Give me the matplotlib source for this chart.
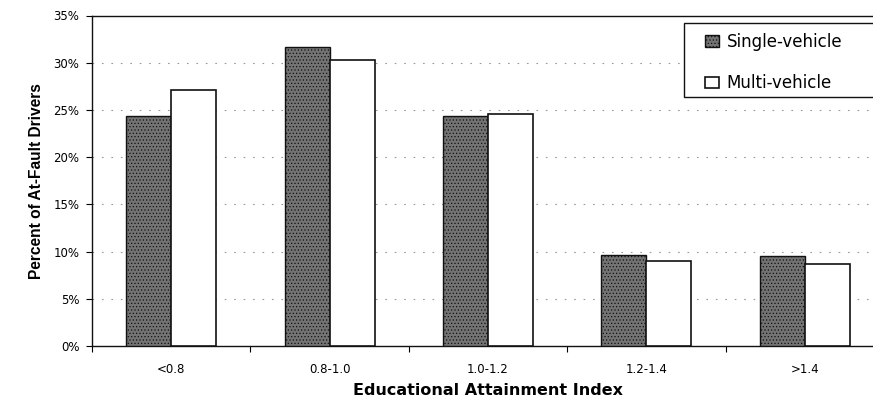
import matplotlib
matplotlib.use("Agg")
import matplotlib.pyplot as plt
import numpy as np
from matplotlib.ticker import FixedLocator, FuncFormatter
from matplotlib.patches import Rectangle

categories = ["<0.8", "0.8-1.0", "1.0-1.2", "1.2-1.4", ">1.4"]
single_vehicle = [24.4, 31.7, 24.4, 9.6, 9.55]
multi_vehicle = [27.1, 30.3, 24.6, 8.95, 8.7]
y_ticks = [0, 5, 10, 15, 20, 25, 30, 35]

plt.rcParams['hatch.linewidth'] = 0.5

W, H = 873, 397
fig = plt.figure(figsize=(W / 100, H / 100), dpi=100)
left, right, top, bottom = 92, 884, 15.5, 346
ax = fig.add_axes([left / W, 1 - bottom / H, (right - left) / W, (bottom - top) / H])

x = np.arange(len(categories))
w = 0.284
ax.bar(x - w / 2, single_vehicle, width=w, facecolor='#737373', edgecolor='#111111',
       hatch='.....', linewidth=1.0, label='Single-vehicle', zorder=3)
ax.bar(x + w / 2, multi_vehicle, width=w, facecolor='white', edgecolor='#111111',
       linewidth=1.2, label='Multi-vehicle', zorder=3)

ax.set_xlim(-0.5, len(categories) - 0.5)
ax.set_ylim(0, 35)
ax.set_yticks(y_ticks)
ax.yaxis.set_major_formatter(FuncFormatter(lambda v, p: f"{int(v)}%"))
ax.set_xticks(x)
ax.set_xticklabels(categories)
ax.xaxis.set_minor_locator(FixedLocator(np.arange(-0.5, len(categories) + 0.5, 1.0)))
ax.tick_params(axis='x', which='major', length=0, pad=12, labelsize=8.5)
ax.tick_params(axis='x', which='minor', length=4, width=0.8, direction='out')
ax.tick_params(axis='y', length=4, width=0.8, direction='out', labelsize=8.5, pad=5)
for lab in ax.get_xticklabels() + ax.get_yticklabels():
    lab.set_family('DejaVu Sans')

for yv in y_ticks[1:-1]:
    ax.axhline(yv, color='#999999', linewidth=0.8, linestyle=(0, (1.5, 7)), zorder=1)

for s in ax.spines.values():
    s.set_color('#111111')
    s.set_linewidth(1.0)
ax.spines['right'].set_visible(False)

ax.set_ylabel('Percent of At-Fault Drivers', fontsize=11.2, fontweight='bold',
              family='Liberation Sans', labelpad=7)
ax.set_xlabel('Educational Attainment Index', fontsize=11.5, fontweight='bold',
              family='DejaVu Sans', labelpad=5)

# legend frame (extends beyond right edge as in the reference)
frame = Rectangle((684 / W, 1 - 97 / H), 200 / W, 74 / H, transform=fig.transFigure,
                  facecolor='white', edgecolor='#111111', linewidth=1.0,
                  zorder=6, clip_on=False)
ax.add_artist(frame)

leg = ax.legend(loc='upper left', bbox_to_anchor=(700 / W, 1 - 28 / H),
                bbox_transform=fig.transFigure, borderaxespad=0, frameon=False,
                handlelength=0.85, handleheight=0.7,
                handletextpad=0.45, labelspacing=1.4, borderpad=0.3,
                prop={'family': 'DejaVu Sans', 'size': 12})
leg.set_zorder(7)

fig.savefig('out.png', dpi=100)
